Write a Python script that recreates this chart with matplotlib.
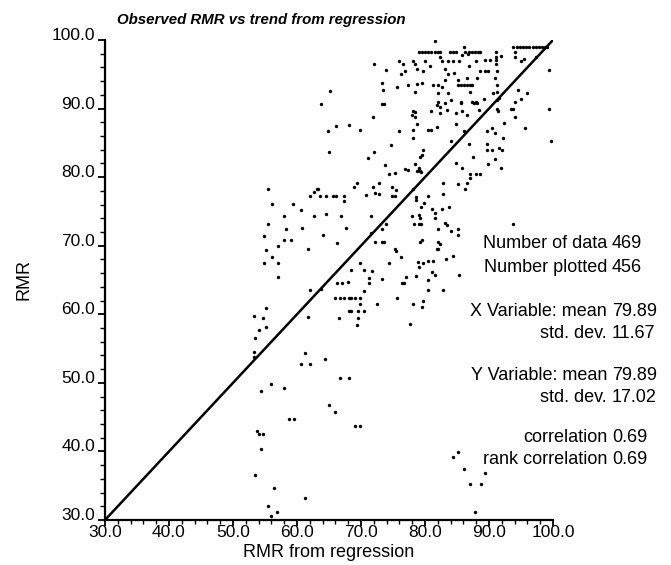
import matplotlib.pyplot as plt
import numpy as np
from matplotlib.ticker import MultipleLocator

plt.rcParams['font.family'] = ['Liberation Sans', 'DejaVu Sans']

# trend line (observed = regression)
trend = [30.0, 100.0]

# horizontal runs of overlapping points at the top
run_top = [(79.0, 98.2), (79.5, 98.2), (80.0, 98.2), (80.5, 98.2), (81.0, 98.2), (81.5, 98.2),
           (82.0, 98.2), (82.4, 98.2), (83.9, 98.2), (84.3, 98.2), (84.8, 98.2), (86.3, 98.2),
           (86.8, 98.2), (87.3, 98.2), (87.8, 98.2), (88.3, 98.2), (88.6, 98.2)]
run_right = [(93.8, 99.0), (94.3, 99.0), (94.8, 99.0), (95.3, 99.0), (95.8, 99.0), (96.3, 99.0),
             (96.8, 99.0), (97.3, 99.0), (97.8, 99.0), (98.3, 99.0), (98.8, 99.0), (99.1, 99.0)]
run_mid = [(85.1, 93.5), (85.6, 93.5), (86.1, 93.5), (86.6, 93.5), (87.0, 93.5), (87.4, 93.5)]

upper_right = [
    (81.5, 99.9), (86.1, 99.0), (76.0, 97.0), (78.2, 97.0), (78.4, 96.5), (80.0, 97.0), (80.8, 96.2),
    (82.3, 97.5), (82.6, 97.0), (83.6, 97.0), (84.3, 97.0), (85.3, 97.0), (85.8, 97.8), (86.7, 98.0),
    (86.8, 96.2), (87.9, 97.0), (89.4, 97.1), (90.1, 97.1), (91.1, 98.2), (91.1, 97.5), (91.1, 97.1),
    (91.1, 96.5), (91.9, 97.7), (94.0, 98.2), (94.1, 97.5), (95.0, 97.0), (95.5, 97.2), (97.3, 97.5),
    (99.4, 95.6), (76.2, 95.0), (76.9, 95.5), (76.6, 96.5), (78.7, 95.7), (79.7, 95.5), (77.4, 93.4),
    (78.7, 93.6), (79.5, 93.8), (78.4, 92.4), (81.3, 93.4), (82.1, 93.4), (82.6, 93.2), (83.1, 94.2),
    (83.6, 95.0), (83.1, 95.7), (84.5, 95.2), (85.1, 94.2), (86.6, 94.5), (88.1, 94.5), (88.6, 95.5),
    (89.3, 95.5), (89.9, 95.5), (91.2, 95.5), (91.0, 94.5), (91.2, 93.4), (91.2, 92.4), (90.7, 92.2),
    (89.2, 91.4), (91.5, 91.5), (87.0, 92.4), (82.1, 92.2), (83.6, 92.2), (82.1, 91.0), (82.3, 90.3),
    (84.0, 91.3), (85.6, 90.8), (87.6, 90.8), (88.1, 90.8), (91.2, 91.3), (91.2, 89.9), (91.4, 89.7),
    (93.5, 89.9), (93.7, 89.9), (94.5, 92.7), (95.9, 92.3), (95.0, 91.4), (94.0, 91.0), (99.4, 90.0),
    (78.2, 89.7), (78.4, 88.8), (81.0, 89.7), (82.3, 89.3), (83.5, 89.8), (84.8, 89.3), (85.8, 89.7),
    (86.6, 89.0), (78.7, 87.8), (80.5, 86.9), (81.0, 86.9), (78.2, 86.9), (78.2, 85.7), (81.9, 87.3),
    (84.8, 87.8), (86.1, 86.7), (89.7, 86.7), (90.5, 87.1), (91.0, 86.5), (92.2, 85.7), (95.7, 87.2),
    (99.7, 85.3), (89.7, 84.9), (89.7, 83.9), (90.5, 83.9), (91.5, 84.3), (92.0, 83.9), (84.0, 85.2),
    (79.7, 83.9), (79.2, 82.9), (87.5, 82.9), (91.0, 82.7), (89.8, 81.9), (84.8, 82.0), (85.8, 81.4),
    (91.9, 81.4), (76.9, 81.2), (87.1, 80.4), (87.9, 80.4), (88.6, 80.4), (82.8, 79.2), (85.1, 79.0),
    (86.6, 79.2), (86.3, 78.3), (78.2, 78.3), (79.0, 81.1), (79.4, 80.7), (86.9, 84.8), (77.4, 81.1),
    (79.0, 81.4), (79.2, 80.9), (78.4, 81.9), (78.7, 80.9), (79.5, 83.2), (78.0, 89.0), (78.4, 89.5),
    (81.9, 90.5), (83.1, 90.8), (85.6, 90.9), (87.4, 90.9), (88.0, 90.9), (88.4, 89.8), (94.1, 88.8),
    (92.3, 87.9), (87.1, 79.9), (75.7, 93.2),
]

upper_left = [
    (72.1, 96.5), (73.9, 95.6), (73.3, 93.8), (73.5, 92.7), (65.1, 92.6), (63.8, 90.7), (73.3, 90.7),
    (73.6, 90.7), (71.8, 88.7), (66.1, 87.4), (68.2, 87.6), (64.8, 86.7), (69.8, 86.9), (76.0, 86.7),
    (74.7, 84.7), (65.0, 83.7), (72.1, 83.7), (71.1, 82.8), (73.8, 81.7), (74.3, 80.5), (75.3, 80.6),
    (72.8, 79.2), (69.4, 79.2), (68.9, 78.6), (71.8, 78.5), (63.1, 78.3), (55.4, 78.2), (74.9, 78.6),
]

middle = [
    (56.1, 76.1), (59.4, 76.1), (60.6, 75.2), (58.0, 74.3), (55.5, 73.1), (58.3, 72.4), (60.8, 72.6),
    (54.9, 71.4), (58.0, 70.9), (59.0, 70.9), (64.1, 71.5), (55.1, 69.4), (57.0, 70.0), (56.1, 68.4),
    (61.7, 69.5), (54.9, 67.5), (57.0, 67.5), (57.0, 65.4), (62.1, 77.2), (62.7, 77.8), (63.3, 78.2),
    (63.6, 77.3), (64.6, 77.2), (65.7, 77.2), (66.1, 77.2), (67.4, 77.2), (67.4, 76.5), (70.8, 77.4),
    (72.2, 77.7), (72.8, 77.5), (75.4, 78.1), (74.8, 77.2), (75.3, 77.2), (78.0, 74.3), (78.3, 73.1),
    (62.7, 74.3), (64.5, 74.6), (66.8, 74.3), (67.6, 72.6), (71.6, 74.3), (73.9, 73.1), (73.3, 72.4),
    (71.5, 71.8), (72.2, 70.5), (73.3, 70.5), (73.6, 70.5), (66.2, 70.4), (75.3, 69.5), (75.4, 69.3),
    (76.3, 68.4), (78.9, 67.6), (74.3, 67.5), (69.9, 67.5), (68.5, 66.4), (70.5, 66.4), (71.7, 66.3),
    (77.0, 65.4), (78.6, 65.6), (71.3, 65.3), (73.3, 65.2), (66.2, 64.5), (67.0, 64.5), (68.0, 64.7),
    (71.3, 64.5), (76.4, 64.5), (76.7, 64.5), (63.8, 63.7), (62.1, 63.6), (70.5, 63.4), (65.9, 62.4),
    (66.7, 62.4), (67.3, 62.4), (68.1, 62.4), (68.5, 62.4), (69.1, 62.4), (69.9, 62.4), (75.7, 62.4),
    (69.9, 61.5), (72.5, 61.5), (78.2, 61.5), (68.1, 60.5), (68.5, 60.5), (69.6, 60.5), (70.5, 60.5),
    (69.6, 59.4), (66.5, 59.4), (69.3, 58.5), (61.7, 59.6), (77.7, 58.6), (55.2, 60.9), (53.3, 59.7),
    (54.7, 59.5), (54.0, 57.7), (55.2, 58.1), (53.5, 56.5), (53.3, 54.5), (61.3, 54.3),
]

middle_right = [
    (78.6, 77.1), (78.6, 76.7), (80.5, 77.3), (82.8, 77.5), (79.9, 76.2), (79.4, 75.6), (83.8, 75.7),
    (81.1, 75.3), (81.6, 74.8), (81.6, 74.1), (82.6, 75.3), (79.0, 74.5), (79.2, 74.1), (79.0, 73.1),
    (79.4, 73.1), (83.1, 73.3), (83.5, 73.0), (82.1, 72.4), (84.0, 72.2), (85.2, 72.4), (85.2, 71.5),
    (93.7, 73.1), (79.2, 70.5), (79.6, 70.9), (82.1, 70.5), (82.3, 70.3), (81.8, 69.5), (82.1, 69.5),
    (79.7, 67.5), (79.1, 66.9), (80.5, 67.7), (81.3, 67.8), (83.3, 68.0), (84.4, 68.5), (81.1, 66.2),
    (81.5, 65.8), (85.3, 65.8), (80.5, 65.0), (80.4, 63.6), (82.8, 63.6), (79.7, 61.9), (79.5, 61.1),
]

lower_left = [
    (53.3, 53.8), (60.7, 52.7), (62.0, 52.7), (64.4, 53.5), (66.7, 50.7), (68.2, 50.7), (56.0, 49.8),
    (58.0, 49.3), (54.3, 48.8), (65.0, 46.8), (66.0, 45.7), (58.7, 44.8), (59.6, 44.8), (69.0, 43.7),
    (69.9, 43.7), (53.7, 43.0), (54.1, 42.6), (54.7, 42.6), (54.3, 40.3), (53.5, 36.5), (56.4, 34.7),
    (61.3, 33.2), (55.4, 32.0), (56.9, 31.2), (55.9, 30.6),
]

lower_right = [(85.2, 39.9), (84.3, 39.2), (86.1, 37.4), (89.3, 36.8), (87.0, 35.3), (88.8, 35.2),
               (87.8, 31.2)]

stat_names = ["Number of data", "Number plotted", "X Variable: mean", "std. dev.",
              "Y Variable: mean", "std. dev.", "correlation", "rank correlation"]
stat_values = ["469", "456", "79.89", "11.67", "79.89", "17.02", "0.69", "0.69"]
stat_rows = [243, 267, 311, 333, 375, 397, 438, 460]   # pixel rows of the text block

pts = np.array(run_top + run_right + run_mid + upper_right + upper_left + middle
               + middle_right + lower_left + lower_right)

W, H = 671.0, 565.0
fig = plt.figure(figsize=(6.71, 5.65), dpi=100)
ax = fig.add_axes([105 / W, 1 - 520 / H, 448 / W, 480 / H])

ax.plot(trend, trend, color='black', lw=1.8, zorder=2)
ax.scatter(pts[:, 0], pts[:, 1], s=6, c='black', linewidths=0, zorder=3)

ax.set_xlim(30, 100)
ax.set_ylim(30, 100)
ax.spines['top'].set_visible(False)
ax.spines['right'].set_visible(False)
ax.spines['left'].set_linewidth(1.6)
ax.spines['bottom'].set_linewidth(1.6)

ax.xaxis.set_major_locator(MultipleLocator(10))
ax.xaxis.set_minor_locator(MultipleLocator(2))
ax.yaxis.set_major_locator(MultipleLocator(10))
ax.yaxis.set_minor_locator(MultipleLocator(2))
ax.tick_params(axis='x', which='major', direction='out', length=4, width=1.3, labelsize=12.5, pad=-0.5)
ax.tick_params(axis='x', which='minor', direction='out', length=3, width=1.0)
ax.tick_params(axis='y', which='major', direction='out', length=5, width=1.3, labelsize=12.5, pad=2)
ax.tick_params(axis='y', which='minor', direction='out', length=3.5, width=1.0)
ax.xaxis.set_major_formatter(plt.FormatStrFormatter('%.1f'))
ax.yaxis.set_major_formatter(plt.FormatStrFormatter('%.1f'))
for lab in ax.get_yticklabels():
    lab.set_verticalalignment('baseline')

ax.set_xlabel("RMR from regression", fontsize=13, labelpad=3)
ax.set_ylabel("RMR", fontsize=13, labelpad=14)
fig.text(117 / W, 1 - 24 / H, "Observed RMR vs trend from regression", fontsize=10.8,
         fontweight='bold', fontstyle='italic', va='baseline', ha='left')

for name, val, row in zip(stat_names, stat_values, stat_rows):
    fig.text(607 / W, 1 - row / H, name, fontsize=13, ha='right', va='center')
    fig.text(612 / W, 1 - row / H, val, fontsize=13, ha='left', va='center')

fig.savefig("out.png", dpi=100)
